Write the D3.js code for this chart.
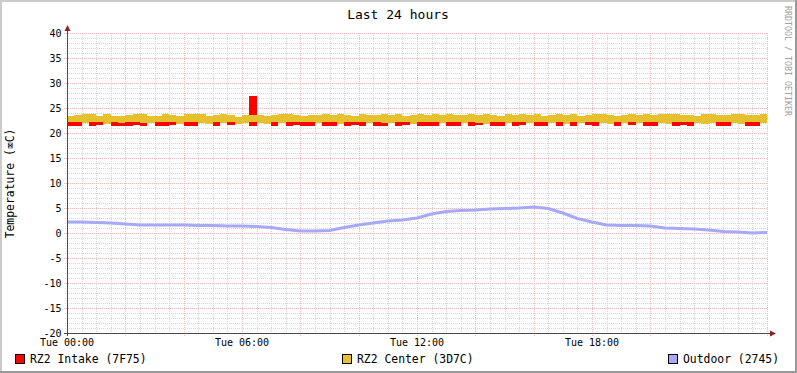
<!DOCTYPE html>
<html><head><meta charset="utf-8">
<script src="https://cdn.jsdelivr.net/npm/d3@7"></script>
<style>body{margin:0;background:#fff}svg{display:block}text{font-family:"DejaVu Sans Mono",monospace}</style>
</head><body><svg id="c" width="797" height="373"></svg>
<script>
// ---- data ----
const title = "Last 24 hours";
const yLabel = "Temperature (\u2327C)";
const yTicks = [-20,-15,-10,-5,0,5,10,15,20,25,30,35,40];
const xTickLabels = ["Tue 00:00","Tue 06:00","Tue 12:00","Tue 18:00"];
const xTickHours = [0,6,12,18];
const seriesNames = ["RZ2 Intake (7F75)","RZ2 Center (3D7C)","Outdoor (2745)"];
const seriesColors = ["#ff0000","#e6c12d","#a8a8f8"];
const bandStepHours = 0.25;   // one value per 15 minutes
const centerHigh = [23.5,23.6,23.8,23.8,23.5,23.9,23.5,23.4,23.6,23.8,23.8,23.5,23.5,23.9,23.7,23.4,
  23.8,23.8,23.9,23.5,23.6,23.8,23.6,23.3,23.7,23.6,23.6,23.5,23.7,23.9,23.9,23.7,
  23.4,23.6,23.7,23.8,23.6,23.8,23.7,23.5,23.8,23.6,23.7,23.9,23.6,23.8,23.5,23.7,
  23.8,23.6,23.9,23.7,23.8,23.6,23.7,23.9,23.6,23.8,23.7,23.5,23.8,23.7,23.9,23.6,
  23.8,23.5,23.7,23.9,23.6,23.8,23.5,23.7,23.9,23.8,23.6,23.5,23.7,23.8,23.6,23.9,
  23.7,23.8,23.8,23.9,23.7,23.6,23.5,23.8,23.8,23.7,23.6,23.9,23.8,23.7,23.6,23.8];
const centerLow = [22.2,22.3,22.0,22.3,22.2,21.9,22.3,22.1,22.3,22.2,22.1,22.0,22.3,22.3,22.2,21.9,
  22.3,22.2,22.0,21.9,22.2,22.0,22.3,21.9,22.0,22.2,22.0,21.9,22.3,22.0,22.2,22.3,
  22.3,22.2,22.0,22.3,22.2,21.9,22.3,22.3,22.2,22.0,22.3,22.1,22.0,22.3,22.2,21.9,
  22.3,22.3,22.2,22.0,22.3,22.2,22.0,22.3,22.1,21.9,22.3,22.2,22.0,22.3,22.3,22.0,
  22.2,22.3,22.0,22.2,21.9,22.3,22.0,22.3,22.2,22.0,21.9,22.3,22.0,22.2,22.0,22.3,
  22.2,22.0,21.9,22.3,22.2,22.3,22.0,21.9,22.0,22.3,22.2,22.0,21.9,22.3,22.2,22.0];
const intakeLow = [21.5,21.5,22.1,21.5,21.6,22.0,21.5,21.5,21.5,21.6,21.5,22.1,21.5,21.5,21.6,22.0,
  21.5,21.5,22.1,22.0,21.5,22.1,21.6,22.0,22.1,21.5,22.1,22.0,21.5,22.1,21.5,21.6,
  21.5,21.5,22.1,21.5,21.5,22.0,21.5,21.6,21.5,22.1,21.5,21.5,22.1,21.5,21.6,22.0,
  21.5,21.5,21.5,22.1,21.5,21.4,22.1,21.5,21.6,22.0,21.5,21.5,22.1,21.5,21.6,22.1,
  21.5,21.5,22.1,21.5,22.0,21.5,22.1,21.6,21.5,22.1,22.0,21.5,22.1,21.6,22.1,21.5,
  21.5,22.1,22.0,21.5,21.6,21.5,22.1,22.0,22.1,21.5,21.5,22.1,22.0,21.5,21.5,22.1];
const intakeHigh = [22.7,22.7,22.7,22.7,22.7,22.7,22.7,22.7,22.7,22.7,22.7,22.7,22.7,22.7,22.7,22.7,
  22.7,22.7,22.7,22.7,22.7,22.7,22.7,22.7,22.7,27.4,22.7,22.7,22.7,22.7,22.7,22.7,
  22.7,22.7,22.7,22.7,22.7,22.7,22.7,22.7,22.7,22.7,22.7,22.7,22.7,22.7,22.7,22.7,
  22.7,22.7,22.7,22.7,22.7,22.7,22.7,22.7,22.7,22.7,22.7,22.7,22.7,22.7,22.7,22.7,
  22.7,22.7,22.7,22.7,22.7,22.7,22.7,22.7,22.7,22.7,22.7,22.7,22.7,22.7,22.7,22.7,
  22.7,22.7,22.7,22.7,22.7,22.7,22.7,22.7,22.7,22.7,22.7,22.7,22.7,22.7,22.7,22.7];
const outdoorStepHours = 0.5;
const outdoor = [2.2,2.2,2.1,2.0,1.8,1.6,1.6,1.6,1.6,1.5,1.5,1.4,1.4,1.3,1.1,0.7,0.4,0.4,0.5,1.1,
  1.6,2.0,2.4,2.6,3.0,3.8,4.3,4.5,4.6,4.8,4.9,5.0,5.2,4.9,4.0,2.9,2.2,1.6,1.5,1.5,
  1.4,1.0,0.9,0.8,0.6,0.3,0.2,0.0,0.1];

// ---- drawing ----
const svg = d3.select("#c");
const W = 797, H = 373;
const L = 67, R = 767, T = 33, B = 333;
const x = d3.scaleLinear().domain([0,24]).range([L,R]);
const y = d3.scaleLinear().domain([-20,40]).range([B,T]);
const px = v => Math.round(v) + 0.5;

svg.append("rect").attr("width",W).attr("height",H).attr("fill","#fff");
// bevel
svg.append("rect").attr("x",0).attr("y",0).attr("width",W).attr("height",2).attr("fill","#cbcbcb");
svg.append("rect").attr("x",0).attr("y",0).attr("width",2).attr("height",H).attr("fill","#cbcbcb");
svg.append("rect").attr("x",0).attr("y",H-2).attr("width",W).attr("height",2).attr("fill","#999");
svg.append("rect").attr("x",W-2).attr("y",0).attr("width",2).attr("height",H).attr("fill","#999");

// grid
const g = svg.append("g").attr("shape-rendering","crispEdges");
const minorCol = "#d6d6d6", majorCol = "#efbcbc";
d3.range(-20,41,1).filter(v=>v%5!==0).forEach(v=>{
  g.append("line").attr("x1",L-2).attr("x2",R+1).attr("y1",px(y(v))).attr("y2",px(y(v)))
   .attr("stroke",minorCol).attr("stroke-dasharray","1,1");
});
d3.range(0,24.01,0.5).filter(h=>h%2!==0).forEach(h=>{
  g.append("line").attr("y1",T).attr("y2",B+2).attr("x1",px(x(h))).attr("x2",px(x(h)))
   .attr("stroke",minorCol).attr("stroke-dasharray","1,1");
});
yTicks.forEach(v=>{
  g.append("line").attr("x1",L-3).attr("x2",R+1).attr("y1",px(y(v))).attr("y2",px(y(v)))
   .attr("stroke",majorCol).attr("stroke-dasharray","1,1");
});
d3.range(0,24.01,2).forEach(h=>{
  g.append("line").attr("y1",T).attr("y2",B+3).attr("x1",px(x(h))).attr("x2",px(x(h)))
   .attr("stroke",majorCol).attr("stroke-dasharray","1,1");
});

// bands
function bandData(lo, hi){
  const d = lo.map((v,i)=>({h:i*bandStepHours, lo:v, hi:hi[i]}));
  d.push({h:lo.length*bandStepHours, lo:lo[lo.length-1], hi:hi[hi.length-1]});
  return d;
}
const area = d3.area().curve(d3.curveStepAfter).x(d=>x(d.h)).y0(d=>y(d.lo)).y1(d=>y(d.hi));
svg.append("path").datum(bandData(intakeLow,intakeHigh)).attr("d",area)
  .attr("fill",seriesColors[0]).attr("shape-rendering","crispEdges");
svg.append("path").datum(bandData(centerLow,centerHigh)).attr("d",area)
  .attr("fill",seriesColors[1]).attr("shape-rendering","crispEdges");

// outdoor
const line = d3.line().x((d,i)=>x(i*outdoorStepHours)).y(d=>y(d));
svg.append("path").datum(outdoor).attr("d",line).attr("fill","none")
  .attr("stroke",seriesColors[2]).attr("stroke-width",3).attr("stroke-linejoin","round");

// axes
const axCol = "#4a4a4a", arrowCol = "#8b2323";
svg.append("line").attr("x1",L+0.5).attr("x2",L+0.5).attr("y1",B+3).attr("y2",T-5)
  .attr("stroke",axCol).attr("shape-rendering","crispEdges");
svg.append("line").attr("x1",L-3).attr("x2",R+4).attr("y1",B+0.5).attr("y2",B+0.5)
  .attr("stroke",axCol).attr("shape-rendering","crispEdges");
svg.append("path").attr("d",`M${L+0.5},${T-8} L${L+3.5},${T-2} L${L-2.5},${T-2} Z`).attr("fill",arrowCol);
svg.append("path").attr("d",`M${R+9},${B+0.5} L${R+3},${B+3.5} L${R+3},${B-2.5} Z`).attr("fill",arrowCol);

// y tick labels
svg.append("g").selectAll("text").data(yTicks).join("text")
  .attr("x",61.5).attr("y",v=>y(v)+3.5).attr("text-anchor","end")
  .attr("font-size",10).attr("fill","#000").text(v=>v);
// x tick labels
svg.append("g").selectAll("text").data(xTickHours).join("text")
  .attr("x",h=>x(h)).attr("y",346).attr("text-anchor","middle")
  .attr("font-size",10).attr("fill","#000").text((h,i)=>xTickLabels[i]);

// title
svg.append("text").attr("x",398).attr("y",19).attr("text-anchor","middle")
  .attr("font-size",13).attr("fill","#000").text(title);
// y label
svg.append("text").attr("transform","translate(14,183.5) rotate(-90)").attr("text-anchor","middle")
  .attr("font-size",11.4).attr("fill","#000").text(yLabel);
// watermark
svg.append("text").attr("transform","translate(784.5,6) rotate(90)").attr("text-anchor","start")
  .attr("font-size",8.3).attr("fill","#a0a0a0").text("RRDTOOL / TOBI OETIKER");

// legend
const legX = [15,342,668];
const leg = svg.append("g");
seriesNames.forEach((n,i)=>{
  leg.append("rect").attr("x",legX[i]+0.5).attr("y",354.5).attr("width",9).attr("height",9)
    .attr("fill",seriesColors[i]).attr("stroke","#000").attr("shape-rendering","crispEdges");
  leg.append("text").attr("x",legX[i]+15).attr("y",362.5).attr("font-size",11.4)
    .attr("fill","#000").text(n);
});
</script></body></html>
